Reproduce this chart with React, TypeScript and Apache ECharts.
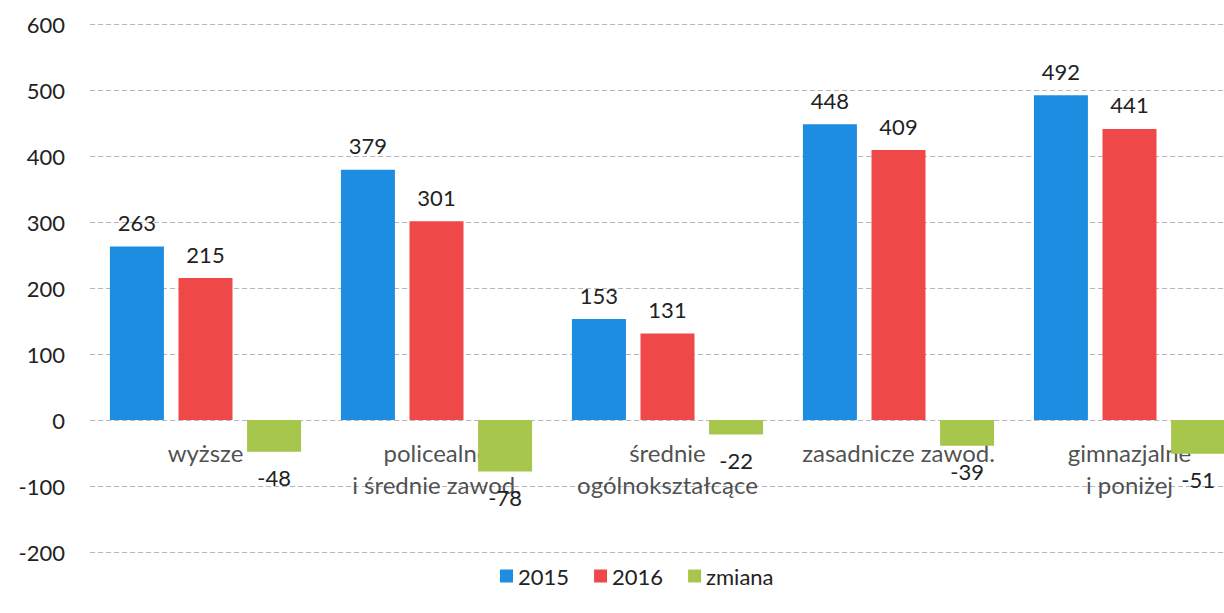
import React, { useEffect, useRef } from "react";
import * as echarts from "echarts";

const categories = [
  "wyższe",
  "policealne\ni średnie zawod.",
  "średnie\nogólnokształcące",
  "zasadnicze zawod.",
  "gimnazjalne\ni poniżej",
];
const seriesNames = ["2015", "2016", "zmiana"];
const values2015 = [263, 379, 153, 448, 492];
const values2016 = [215, 301, 131, 409, 441];
const valuesChange = [-48, -78, -22, -39, -51];

const FONT = "Lato, 'Noto Sans', sans-serif";
const TEXT = "#222222";

export default function App() {
  const ref = useRef<HTMLDivElement>(null);

  useEffect(() => {
    if (!ref.current) return;
    const chart = echarts.init(ref.current, undefined, { renderer: "svg" });
    const labelBase = {
      show: true,
      fontFamily: FONT,
      fontSize: 22,
      color: TEXT,
    };
    chart.setOption({
      animation: false,
      backgroundColor: "#ffffff",
      textStyle: { fontFamily: FONT },
      grid: {
        left: 90,
        top: 24,
        width: 1155,
        height: 528,
        containLabel: false,
        outerBoundsMode: "none",
      },
      legend: {
        data: seriesNames,
        left: 495,
        top: 560,
        itemWidth: 13,
        itemHeight: 13,
        itemGap: 25,
        icon: "rect",
        textStyle: { fontFamily: FONT, fontSize: 22, color: TEXT },
      },
      xAxis: {
        type: "category",
        data: categories,
        axisLine: { show: false },
        axisTick: { show: false },
        axisLabel: { show: false },
      },
      yAxis: {
        type: "value",
        min: -200,
        max: 600,
        interval: 100,
        axisLine: { show: false },
        axisTick: { show: false },
        axisLabel: { margin: 25, fontFamily: FONT, fontSize: 22, color: TEXT },
        splitLine: { lineStyle: { color: "#b4b6c4", width: 1, type: [5, 3] } },
      },
      series: [
        {
          name: seriesNames[0],
          type: "bar",
          data: values2015,
          barWidth: 54,
          barGap: "27%",
          itemStyle: { color: "#1c8de0" },
          label: { ...labelBase, position: "top", distance: 13 },
        },
        {
          name: seriesNames[1],
          type: "bar",
          data: values2016,
          barWidth: 54,
          barGap: "27%",
          itemStyle: { color: "#ef4848" },
          label: { ...labelBase, position: "top", distance: 13 },
        },
        {
          name: seriesNames[2],
          type: "bar",
          data: valuesChange,
          barWidth: 54,
          barGap: "27%",
          itemStyle: { color: "#a6c64c" },
          label: { ...labelBase, position: "bottom", distance: 15 },
        },
        {
          name: "categoryLabels",
          type: "scatter",
          data: categories.map((c) => [c, 0]),
          symbolSize: 0,
          silent: true,
          z: 1,
          label: {
            show: true,
            position: "bottom",
            distance: 16,
            formatter: (p: any) => categories[p.dataIndex],
            fontFamily: FONT,
            fontSize: 24,
            lineHeight: 32,
            color: TEXT,
            align: "center",
          },
        },
      ],
    });
    return () => chart.dispose();
  }, []);

  return (
    <div
      style={{
        position: "fixed",
        left: 0,
        top: 0,
        width: 1224,
        height: 613,
        overflow: "hidden",
        background: "#fff",
      }}
    >
      <div ref={ref} style={{ width: 1224, height: 613 }} />
    </div>
  );
}
